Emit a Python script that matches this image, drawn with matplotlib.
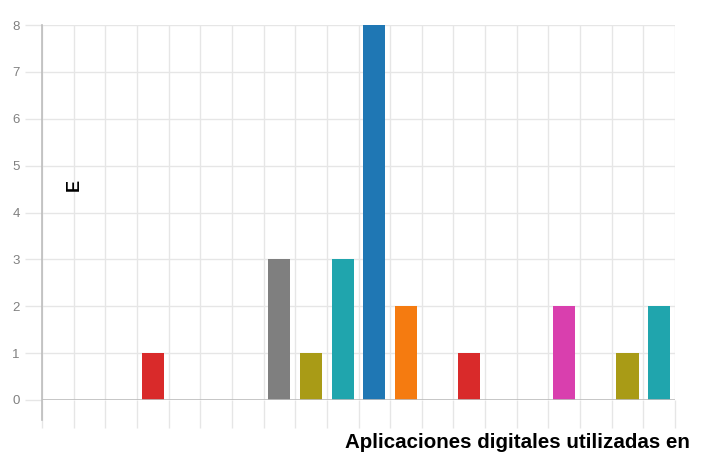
import matplotlib.pyplot as plt
import numpy as np

# one count per application, 20 categories
values = [0, 0, 0, 1, 0, 0, 0, 3, 1, 3, 8, 2, 0, 1, 0, 0, 2, 0, 1, 2]
y_ticks = [0, 1, 2, 3, 4, 5, 6, 7, 8]
palette = ['#1f77b4', '#f57b10', '#2ca02c', '#d92a2a', '#9467bd',
           '#8c564b', '#d93fae', '#7f7f7f', '#a99b16', '#20a5ad']
x_title = 'Aplicaciones digitales utilizadas en'
y_title = 'E'

plt.rcParams['font.family'] = ['Liberation Sans', 'DejaVu Sans']

fig = plt.figure(figsize=(7.09, 4.55), dpi=100)
ax = fig.add_axes([42 / 709, 1 - 400 / 455, 633 / 709, 375 / 455])

n = len(values)
x = np.arange(n)
colors = [palette[i % len(palette)] for i in range(n)]
ax.bar(x, values, width=0.7, color=colors, zorder=3)

ax.set_xlim(-0.5, n - 0.5)
ax.set_ylim(0, 8)

# grid lines sit between categories and run down past the baseline
ax.set_xticks(np.arange(n + 1) - 0.5)
ax.set_xticklabels([])
ax.set_yticks(y_ticks)
ax.grid(True, color='#e6e6e6', lw=1, zorder=0)
ax.tick_params(axis='x', length=20, color='#e6e6e6', width=1)
ax.tick_params(axis='y', length=12, color='#e6e6e6', width=1, pad=4,
               labelcolor='#808080', labelsize=9.5)

for s in ['top', 'right', 'bottom', 'left']:
    ax.spines[s].set_visible(False)
ax.axvline(-0.5, ymin=-20 / 375, ymax=1, color='#bdbdbd', lw=1.2,
           clip_on=False, zorder=4)
ax.axhline(0, color='#bdbdbd', lw=1.2, zorder=4)

fig.text(74 / 709, 1 - 185 / 455, y_title, rotation=90, fontsize=13,
         fontweight='bold', ha='center', va='center')
fig.text(690 / 709, 1 - 442 / 455, x_title, fontsize=14.8,
         fontweight='bold', ha='right', va='center')

fig.savefig('out.png', dpi=100)
